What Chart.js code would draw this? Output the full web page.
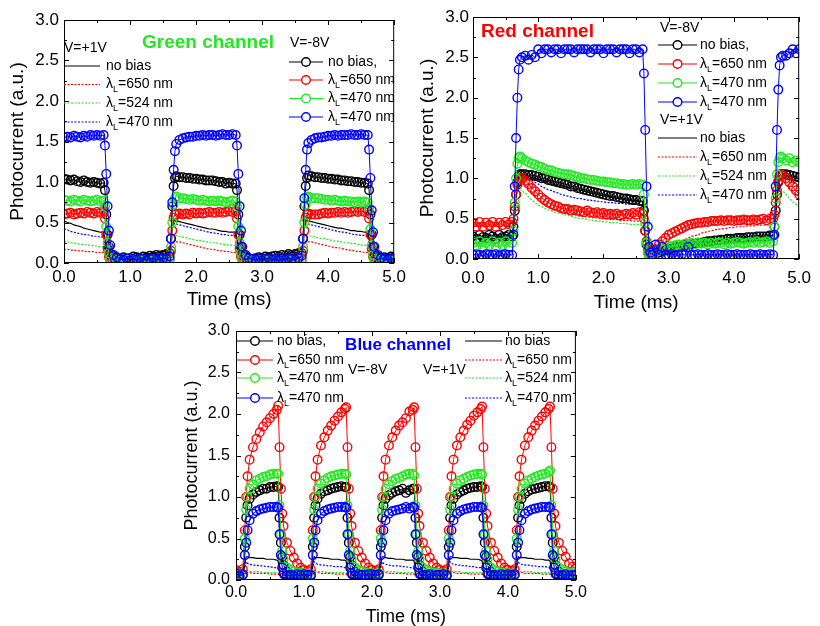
<!DOCTYPE html>
<html>
<head>
<meta charset="utf-8">
<script src="https://cdn.jsdelivr.net/npm/chart.js@4.4.1/dist/chart.umd.min.js"></script>
<style>
  html, body { margin: 0; padding: 0; background: #fff; overflow: hidden; }
  .panel { position: absolute; }
</style>
</head>
<body>
<div class="panel" style="left:0;top:0"><canvas id="cGreen" width="410" height="320"></canvas></div>
<div class="panel" style="left:410px;top:0"><canvas id="cRed" width="410" height="320"></canvas></div>
<div class="panel" style="left:180px;top:315px"><canvas id="cBlue" width="410" height="320"></canvas></div>
<script>
const FONT = '"Liberation Sans", Arial, Helvetica, sans-serif';

// series order everywhere: no bias, 650, 470/524, 470
const seriesColors = ['#000000', '#ff0000', '#22e822', '#0000ff'];
const minusLabels = ['no bias,', 'λL=650 nm', 'λL=470 nm', 'λL=470 nm'];   // V=-8V, circles
const plusLabels = ['no bias', 'λL=650 nm', 'λL=524 nm', 'λL=470 nm'];     // V=+1V, lines
const xTickLabels = ['0.0', '1.0', '2.0', '3.0', '4.0', '5.0'];
const yTickLabels = ['0.0', '0.5', '1.0', '1.5', '2.0', '2.5', '3.0'];

// ---------- Green channel (time in ms) ----------
const greenT = [
  0,0.05,0.1,0.15,0.2,0.25,0.3,0.35,0.4,0.45,0.5,0.55,0.6,
  0.62,0.64,0.66,0.68,0.7,0.75,
  0.8,0.85,0.9,0.95,1,1.05,1.1,1.15,1.2,1.25,1.3,1.35,1.4,1.45,1.5,1.55,1.6,
  1.62,1.64,1.66,1.68,1.7,1.75,
  1.8,1.85,1.9,1.95,2,2.05,2.1,2.15,2.2,2.25,2.3,2.35,2.4,2.45,2.5,2.55,2.6,
  2.62,2.64,2.66,2.68,2.7,2.75,
  2.8,2.85,2.9,2.95,3,3.05,3.1,3.15,3.2,3.25,3.3,3.35,3.4,3.45,3.5,3.55,3.6,
  3.62,3.64,3.66,3.68,3.7,3.75,
  3.8,3.85,3.9,3.95,4,4.05,4.1,4.15,4.2,4.25,4.3,4.35,4.4,4.45,4.5,4.55,4.6,
  4.62,4.64,4.66,4.68,4.7,4.75,
  4.8,4.85,4.9,4.95,5
];
const greenK8 = [
  1.04,1.03,1.02,1.03,1.01,1.0,1.02,1.0,0.99,1.0,0.99,0.98,0.99,
  0.9,0.6,0.35,0.2,0.12,0.08,
  0.06,0.05,0.07,0.05,0.06,0.08,0.07,0.06,0.08,0.07,0.09,0.08,0.1,0.09,0.1,0.11,0.12,
  0.3,0.7,0.95,1.05,1.07,1.06,
  1.06,1.05,1.05,1.04,1.04,1.03,1.03,1.02,1.02,1.02,1.01,1.0,1.0,0.98,0.99,0.98,0.98,
  0.9,0.6,0.35,0.2,0.12,0.08,
  0.06,0.05,0.06,0.07,0.06,0.08,0.07,0.08,0.09,0.08,0.1,0.09,0.11,0.1,0.11,0.12,0.12,
  0.3,0.7,0.95,1.05,1.08,1.07,
  1.06,1.06,1.05,1.05,1.04,1.04,1.03,1.03,1.02,1.02,1.01,1.01,1.0,1.0,0.99,0.99,0.98,
  0.9,0.6,0.35,0.2,0.12,0.08,
  0.06,0.07,0.06,0.08,0.07
];
const greenR8 = [
  0.6,0.61,0.62,0.6,0.61,0.62,0.61,0.63,0.62,0.61,0.63,0.62,0.64,
  0.55,0.35,0.18,0.08,0.04,0.02,
  0.02,0.03,0.02,0.04,0.03,0.02,0.03,0.04,0.03,0.02,0.03,0.04,0.03,0.02,0.03,0.04,0.05,
  0.15,0.4,0.56,0.6,0.6,0.61,
  0.6,0.61,0.6,0.62,0.61,0.62,0.61,0.62,0.63,0.62,0.62,0.63,0.62,0.63,0.64,0.63,0.64,
  0.55,0.35,0.18,0.08,0.04,0.02,
  0.03,0.02,0.04,0.03,0.02,0.03,0.04,0.03,0.02,0.03,0.04,0.03,0.04,0.03,0.04,0.05,0.05,
  0.15,0.4,0.56,0.6,0.61,0.6,
  0.6,0.6,0.61,0.62,0.61,0.62,0.62,0.63,0.62,0.63,0.62,0.63,0.64,0.63,0.64,0.63,0.65,
  0.55,0.35,0.18,0.08,0.04,0.02,
  0.02,0.03,0.02,0.04,0.03
];
const greenG8 = [
  0.78,0.77,0.76,0.78,0.77,0.76,0.78,0.77,0.76,0.77,0.78,0.76,0.77,
  0.7,0.45,0.25,0.12,0.06,0.04,
  0.03,0.02,0.03,0.04,0.02,0.03,0.02,0.03,0.04,0.02,0.03,0.03,0.02,0.04,0.03,0.02,0.03,
  0.2,0.5,0.72,0.8,0.82,0.8,
  0.8,0.79,0.78,0.79,0.78,0.77,0.78,0.77,0.76,0.77,0.76,0.77,0.76,0.75,0.76,0.77,0.76,
  0.7,0.45,0.25,0.12,0.06,0.04,
  0.03,0.04,0.02,0.03,0.04,0.02,0.03,0.04,0.03,0.02,0.03,0.04,0.03,0.02,0.03,0.04,0.03,
  0.2,0.5,0.72,0.81,0.82,0.8,
  0.8,0.8,0.79,0.78,0.78,0.77,0.78,0.77,0.76,0.77,0.76,0.76,0.75,0.76,0.75,0.76,0.75,
  0.68,0.42,0.22,0.1,0.05,0.03,
  0.03,0.02,0.03,0.02,0.03
];
const greenB8 = [
  1.55,1.56,1.55,1.57,1.56,1.55,1.57,1.56,1.58,1.57,1.58,1.57,1.58,
  1.45,1.1,0.7,0.4,0.22,0.1,
  0.07,0.05,0.04,0.06,0.03,0.05,0.04,0.06,0.05,0.03,0.05,0.06,0.04,0.05,0.06,0.05,0.08,
  0.3,0.75,1.15,1.38,1.47,1.52,
  1.54,1.55,1.56,1.56,1.57,1.57,1.58,1.57,1.58,1.58,1.57,1.58,1.59,1.58,1.58,1.59,1.58,
  1.45,1.1,0.7,0.4,0.2,0.1,
  0.06,0.05,0.04,0.05,0.03,0.05,0.06,0.04,0.05,0.03,0.05,0.04,0.06,0.05,0.04,0.06,0.09,
  0.3,0.8,1.15,1.4,1.48,1.52,
  1.54,1.55,1.55,1.56,1.57,1.57,1.58,1.57,1.58,1.58,1.58,1.59,1.58,1.58,1.59,1.58,1.58,
  1.4,1.05,0.65,0.38,0.2,0.1,
  0.06,0.05,0.04,0.06,0.05
];
const greenK1 = [
  0.52,0.5,0.49,0.47,0.46,0.45,0.43,0.42,0.41,0.4,0.39,0.38,0.38,
  0.3,0.15,0.06,0.03,0.02,0.02,
  0.03,0.04,0.05,0.06,0.07,0.08,0.08,0.09,0.1,0.1,0.11,0.12,0.12,0.13,0.14,0.14,0.15,
  0.3,0.45,0.52,0.53,0.52,0.51,
  0.5,0.49,0.48,0.47,0.46,0.45,0.44,0.43,0.42,0.42,0.41,0.4,0.39,0.39,0.38,0.38,0.38,
  0.3,0.15,0.06,0.03,0.02,0.02,
  0.03,0.04,0.05,0.06,0.06,0.07,0.08,0.09,0.09,0.1,0.11,0.11,0.12,0.13,0.13,0.14,0.15,
  0.3,0.45,0.52,0.53,0.52,0.51,
  0.5,0.49,0.48,0.47,0.46,0.45,0.44,0.43,0.43,0.42,0.41,0.4,0.4,0.39,0.39,0.38,0.38,
  0.3,0.15,0.06,0.03,0.02,0.02,
  0.03,0.04,0.05,0.06,0.07
];
const greenR1 = [
  0.17,0.17,0.16,0.16,0.15,0.15,0.15,0.14,0.14,0.14,0.13,0.13,0.13,
  0.08,0.03,0.01,0,0,0.01,
  0.01,0.02,0.03,0.03,0.04,0.05,0.05,0.06,0.07,0.07,0.08,0.09,0.09,0.1,0.1,0.11,0.12,
  0.18,0.25,0.27,0.27,0.26,0.26,
  0.25,0.24,0.23,0.22,0.21,0.2,0.19,0.18,0.17,0.17,0.16,0.15,0.15,0.14,0.14,0.13,0.13,
  0.08,0.03,0.01,0,0,0.01,
  0.01,0.02,0.03,0.03,0.04,0.05,0.05,0.06,0.07,0.07,0.08,0.09,0.09,0.1,0.1,0.11,0.12,
  0.18,0.25,0.27,0.27,0.26,0.26,
  0.25,0.24,0.23,0.22,0.21,0.2,0.19,0.19,0.18,0.17,0.16,0.16,0.15,0.14,0.14,0.13,0.13,
  0.08,0.03,0.01,0,0,0.01,
  0.01,0.02,0.03,0.03,0.04
];
const greenG1 = [
  0.27,0.26,0.25,0.25,0.24,0.23,0.23,0.22,0.22,0.21,0.21,0.2,0.2,
  0.15,0.08,0.05,0.04,0.05,0.06,
  0.06,0.05,0.06,0.07,0.06,0.07,0.08,0.07,0.08,0.07,0.08,0.09,0.08,0.09,0.1,0.09,0.1,
  0.2,0.32,0.35,0.35,0.34,0.33,
  0.32,0.31,0.3,0.29,0.28,0.28,0.27,0.26,0.26,0.25,0.25,0.24,0.23,0.23,0.22,0.22,0.21,
  0.15,0.08,0.05,0.04,0.05,0.06,
  0.06,0.05,0.06,0.07,0.07,0.06,0.08,0.07,0.08,0.08,0.07,0.09,0.08,0.09,0.09,0.1,0.1,
  0.2,0.32,0.35,0.35,0.34,0.33,
  0.32,0.31,0.3,0.3,0.29,0.28,0.27,0.27,0.26,0.25,0.25,0.24,0.24,0.23,0.22,0.22,0.21,
  0.15,0.08,0.05,0.04,0.05,0.06,
  0.06,0.05,0.07,0.06,0.07
];
const greenB1 = [
  0.42,0.41,0.39,0.38,0.37,0.36,0.35,0.35,0.34,0.33,0.33,0.32,0.32,
  0.25,0.12,0.06,0.04,0.05,0.06,
  0.06,0.07,0.06,0.07,0.08,0.07,0.08,0.07,0.08,0.09,0.08,0.09,0.08,0.09,0.1,0.09,0.1,
  0.25,0.42,0.48,0.49,0.48,0.47,
  0.46,0.45,0.44,0.43,0.42,0.41,0.4,0.39,0.38,0.37,0.37,0.36,0.35,0.35,0.34,0.34,0.33,
  0.25,0.12,0.06,0.04,0.05,0.06,
  0.06,0.07,0.06,0.07,0.08,0.07,0.08,0.08,0.07,0.09,0.08,0.09,0.09,0.08,0.1,0.09,0.1,
  0.25,0.42,0.48,0.49,0.48,0.47,
  0.46,0.45,0.44,0.43,0.42,0.41,0.4,0.39,0.38,0.38,0.37,0.36,0.35,0.35,0.34,0.34,0.33,
  0.25,0.12,0.06,0.04,0.05,0.06,
  0.06,0.07,0.06,0.08,0.07
];

// ---------- Red channel ----------
const redT = [
  0,0.05,0.1,0.15,0.2,0.25,0.3,0.35,0.4,0.45,0.5,0.55,0.6,
  0.62,0.64,0.66,0.68,0.7,0.72,0.75,
  0.8,0.85,0.9,0.95,1,1.05,1.1,1.15,1.2,1.25,1.3,1.35,1.4,1.45,1.5,1.55,1.6,1.65,1.7,
  1.75,1.8,1.85,1.9,1.95,2,2.05,2.1,2.15,2.2,2.25,2.3,2.35,2.4,2.45,2.5,2.55,2.6,
  2.62,2.64,2.66,2.68,2.7,2.72,2.75,
  2.8,2.85,2.9,2.95,3,3.05,3.1,3.15,3.2,3.25,3.3,3.35,3.4,3.45,3.5,3.55,3.6,3.65,3.7,
  3.75,3.8,3.85,3.9,3.95,4,4.05,4.1,4.15,4.2,4.25,4.3,4.35,4.4,4.45,4.5,4.55,4.6,
  4.62,4.64,4.66,4.68,4.7,4.72,4.75,
  4.8,4.85,4.9,4.95,5
];
const redK8 = [
  0.28,0.25,0.3,0.27,0.26,0.3,0.28,0.25,0.3,0.27,0.28,0.3,0.28,
  0.4,0.6,0.8,0.95,1.03,1.05,1.05,
  1.05,1.04,1.04,1.03,1.02,1.0,1.0,0.98,0.97,0.96,0.95,0.94,0.93,0.92,0.9,0.9,0.88,0.87,0.86,
  0.85,0.84,0.83,0.82,0.81,0.8,0.79,0.78,0.78,0.77,0.76,0.75,0.75,0.74,0.73,0.73,0.72,0.72,
  0.6,0.35,0.18,0.08,0.05,0.04,0.05,
  0.06,0.08,0.1,0.11,0.12,0.13,0.14,0.15,0.16,0.17,0.18,0.18,0.19,0.2,0.2,0.21,0.22,0.22,0.23,
  0.23,0.24,0.24,0.25,0.25,0.25,0.26,0.26,0.26,0.27,0.27,0.27,0.28,0.28,0.28,0.28,0.29,0.29,
  0.4,0.6,0.8,0.95,1.03,1.05,1.05,
  1.05,1.04,1.03,1.02,1.01
];
const redR8 = [
  0.45,0.4,0.46,0.4,0.45,0.42,0.46,0.4,0.45,0.42,0.46,0.43,0.46,
  0.5,0.65,0.8,0.92,0.98,1.0,1.0,
  0.97,0.93,0.88,0.84,0.8,0.76,0.73,0.7,0.68,0.66,0.65,0.63,0.62,0.62,0.6,0.61,0.6,0.59,0.58,
  0.6,0.58,0.57,0.58,0.56,0.57,0.55,0.56,0.55,0.56,0.54,0.55,0.56,0.55,0.57,0.55,0.58,0.56,
  0.5,0.35,0.22,0.14,0.1,0.08,0.1,
  0.12,0.18,0.22,0.26,0.3,0.32,0.34,0.36,0.38,0.4,0.42,0.43,0.44,0.45,0.45,0.46,0.46,0.47,0.47,
  0.47,0.48,0.47,0.48,0.48,0.47,0.48,0.48,0.49,0.48,0.48,0.49,0.48,0.49,0.5,0.48,0.5,0.5,
  0.55,0.7,0.85,0.97,1.03,1.05,1.03,
  1.0,0.95,0.9,0.85,0.8
];
const redG8 = [
  0.2,0.15,0.22,0.15,0.2,0.17,0.22,0.15,0.2,0.17,0.22,0.15,0.2,
  0.35,0.7,1.0,1.18,1.25,1.27,1.25,
  1.22,1.2,1.18,1.17,1.15,1.14,1.12,1.1,1.1,1.08,1.07,1.06,1.05,1.05,1.04,1.03,1.02,1.0,1.0,
  0.99,0.98,0.98,0.97,0.96,0.96,0.95,0.95,0.94,0.94,0.93,0.93,0.92,0.92,0.93,0.92,0.93,0.92,
  0.8,0.45,0.2,0.08,0.04,0.03,0.05,
  0.08,0.1,0.12,0.14,0.15,0.16,0.17,0.18,0.17,0.19,0.18,0.2,0.18,0.2,0.19,0.2,0.18,0.2,0.19,
  0.2,0.2,0.18,0.2,0.19,0.2,0.21,0.2,0.19,0.2,0.21,0.2,0.22,0.2,0.21,0.22,0.2,0.22,
  0.4,0.75,1.05,1.2,1.25,1.27,1.25,
  1.22,1.25,1.2,1.22,1.2
];
const redB8 = [
  0.05,0.06,0.05,0.04,0.06,0.05,0.05,0.06,0.04,0.05,0.06,0.05,0.05,
  0.3,0.9,1.5,2.0,2.35,2.47,2.5,
  2.52,2.47,2.53,2.5,2.6,2.55,2.6,2.6,2.56,2.6,2.6,2.55,2.6,2.6,2.6,2.56,2.6,2.6,2.6,
  2.6,2.56,2.6,2.6,2.6,2.55,2.6,2.6,2.6,2.56,2.6,2.6,2.6,2.55,2.6,2.6,2.56,2.6,
  2.3,1.6,0.9,0.4,0.15,0.08,0.05,
  0.18,0.05,0.15,0.05,0.05,0.06,0.05,0.05,0.06,0.05,0.15,0.05,0.05,0.06,0.05,0.05,0.06,0.05,0.05,
  0.06,0.05,0.05,0.06,0.05,0.05,0.06,0.05,0.05,0.05,0.06,0.05,0.05,0.06,0.05,0.05,0.06,0.05,
  0.3,0.9,1.6,2.1,2.4,2.5,2.52,
  2.52,2.55,2.6,2.55,2.6
];
const redK1 = [
  0.25,0.25,0.26,0.25,0.25,0.26,0.25,0.25,0.26,0.25,0.25,0.26,0.25,
  0.35,0.55,0.75,0.9,1.0,1.03,1.04,
  1.03,1.02,1.01,1.0,0.99,0.98,0.97,0.96,0.95,0.93,0.92,0.91,0.9,0.89,0.88,0.87,0.86,0.85,0.84,
  0.83,0.82,0.81,0.8,0.79,0.78,0.78,0.77,0.76,0.75,0.75,0.74,0.73,0.73,0.72,0.72,0.71,0.71,
  0.55,0.3,0.15,0.07,0.04,0.03,0.04,
  0.05,0.07,0.09,0.1,0.11,0.12,0.13,0.14,0.15,0.16,0.17,0.17,0.18,0.19,0.19,0.2,0.21,0.21,0.22,
  0.22,0.23,0.23,0.24,0.24,0.24,0.25,0.25,0.25,0.26,0.26,0.26,0.27,0.27,0.27,0.27,0.28,0.28,
  0.35,0.55,0.75,0.9,1.0,1.03,1.04,
  1.03,1.02,1.01,1.0,0.99
];
const redR1 = [
  0.4,0.41,0.4,0.41,0.4,0.41,0.4,0.41,0.4,0.41,0.4,0.41,0.4,
  0.45,0.6,0.75,0.88,0.95,0.97,0.96,
  0.92,0.87,0.82,0.78,0.74,0.7,0.67,0.65,0.63,0.61,0.6,0.58,0.57,0.56,0.55,0.55,0.54,0.53,0.53,
  0.52,0.52,0.51,0.51,0.5,0.5,0.5,0.49,0.49,0.49,0.48,0.48,0.48,0.48,0.47,0.47,0.47,0.47,
  0.4,0.25,0.14,0.08,0.05,0.04,0.05,
  0.06,0.08,0.1,0.12,0.14,0.16,0.18,0.2,0.22,0.24,0.26,0.28,0.29,0.3,0.32,0.33,0.34,0.35,0.36,
  0.37,0.37,0.38,0.38,0.39,0.39,0.4,0.4,0.4,0.41,0.41,0.41,0.42,0.42,0.42,0.42,0.43,0.43,
  0.5,0.65,0.8,0.92,0.97,0.98,0.96,
  0.93,0.88,0.84,0.8,0.77
];
const redG1 = [
  0.28,0.27,0.28,0.27,0.28,0.27,0.28,0.27,0.28,0.27,0.28,0.27,0.28,
  0.35,0.55,0.72,0.84,0.88,0.86,0.84,
  0.82,0.77,0.73,0.7,0.67,0.65,0.63,0.61,0.6,0.58,0.57,0.56,0.55,0.54,0.53,0.52,0.51,0.5,0.5,
  0.49,0.48,0.48,0.47,0.47,0.46,0.46,0.45,0.45,0.45,0.44,0.44,0.44,0.43,0.43,0.43,0.42,0.42,
  0.35,0.2,0.1,0.05,0.03,0.03,0.04,
  0.05,0.06,0.07,0.08,0.1,0.11,0.12,0.13,0.14,0.15,0.16,0.17,0.17,0.18,0.19,0.19,0.2,0.2,0.21,
  0.21,0.22,0.22,0.22,0.23,0.23,0.23,0.24,0.24,0.24,0.24,0.25,0.25,0.25,0.25,0.26,0.26,0.26,
  0.35,0.55,0.72,0.84,0.88,0.86,0.84,
  0.8,0.75,0.71,0.68,0.65
];
const redB1 = [
  0.3,0.28,0.3,0.29,0.3,0.31,0.3,0.29,0.31,0.3,0.3,0.31,0.3,
  0.4,0.6,0.8,0.95,1.02,1.05,1.04,
  1.03,1.0,0.98,0.95,0.93,0.9,0.88,0.86,0.85,0.83,0.82,0.8,0.79,0.78,0.77,0.76,0.75,0.75,0.74,
  0.73,0.73,0.72,0.72,0.71,0.71,0.7,0.7,0.7,0.69,0.69,0.69,0.68,0.68,0.68,0.68,0.67,0.67,
  0.55,0.35,0.2,0.12,0.08,0.06,0.05,
  0.06,0.07,0.08,0.1,0.11,0.12,0.13,0.14,0.15,0.16,0.17,0.18,0.19,0.2,0.2,0.21,0.22,0.22,0.23,
  0.24,0.24,0.25,0.25,0.26,0.26,0.27,0.27,0.28,0.28,0.28,0.29,0.29,0.29,0.3,0.3,0.3,0.3,
  0.4,0.6,0.85,0.98,1.03,1.04,1.03,
  1.01,0.98,0.95,0.93,0.9
];

// ---------- Blue channel ----------
const blueT = [
  0,0.05,0.1,0.13,0.15,0.17,0.2,0.25,0.3,0.35,0.4,0.45,0.5,0.55,0.6,0.62,0.64,0.66,0.68,0.7,0.75,0.8,0.85,0.9,0.95,
  1,1.05,1.1,1.13,1.15,1.17,1.2,1.25,1.3,1.35,1.4,1.45,1.5,1.55,1.6,1.62,1.64,1.66,1.68,1.7,1.75,1.8,1.85,1.9,1.95,
  2,2.05,2.1,2.13,2.15,2.17,2.2,2.25,2.3,2.35,2.4,2.45,2.5,2.55,2.6,2.62,2.64,2.66,2.68,2.7,2.75,2.8,2.85,2.9,2.95,
  3,3.05,3.1,3.13,3.15,3.17,3.2,3.25,3.3,3.35,3.4,3.45,3.5,3.55,3.6,3.62,3.64,3.66,3.68,3.7,3.75,3.8,3.85,3.9,3.95,
  4,4.05,4.1,4.13,4.15,4.17,4.2,4.25,4.3,4.35,4.4,4.45,4.5,4.55,4.6,4.62,4.64,4.66,4.68,4.7,4.75,4.8,4.85,4.9,4.95,
  5
];
const blueK8 = [
  0.05,0.05,0.06,0.4,0.75,0.9,0.98,1.03,1.06,1.08,1.1,1.1,1.12,1.12,1.13,1.12,0.75,0.45,0.28,0.18,0.1,0.07,0.06,0.05,0.05,
  0.05,0.06,0.05,0.4,0.75,0.9,0.98,1.04,1.07,1.08,1.1,1.11,1.12,1.13,1.12,1.12,0.75,0.45,0.28,0.18,0.1,0.07,0.06,0.05,0.05,
  0.05,0.05,0.06,0.4,0.75,0.9,0.98,1.02,1.05,1.07,1.08,1.1,1.05,1.08,1.1,1.1,0.75,0.45,0.28,0.18,0.1,0.07,0.06,0.05,0.05,
  0.05,0.06,0.05,0.4,0.75,0.9,0.98,1.03,1.06,1.08,1.1,1.11,1.12,1.12,1.13,1.12,0.75,0.45,0.28,0.18,0.1,0.07,0.06,0.05,0.05,
  0.05,0.05,0.06,0.4,0.75,0.9,0.98,1.04,1.07,1.09,1.1,1.11,1.12,1.13,1.13,1.12,0.75,0.45,0.28,0.18,0.1,0.07,0.06,0.05,0.05,
  0.05
];
const blueR8 = [
  0.12,0.1,0.13,0.6,1.0,1.25,1.45,1.6,1.7,1.78,1.85,1.9,1.95,2.0,2.05,2.1,1.6,1.1,0.8,0.65,0.45,0.35,0.27,0.2,0.15,
  0.12,0.11,0.13,0.6,1.0,1.25,1.45,1.62,1.72,1.8,1.86,1.92,1.97,2.02,2.06,2.08,1.6,1.1,0.8,0.65,0.45,0.35,0.27,0.2,0.15,
  0.12,0.11,0.13,0.6,1.0,1.25,1.45,1.62,1.72,1.8,1.86,1.9,1.95,2.03,2.05,2.08,1.6,1.1,0.8,0.65,0.45,0.35,0.27,0.2,0.15,
  0.12,0.11,0.13,0.6,1.0,1.25,1.45,1.62,1.72,1.8,1.87,1.92,1.98,2.02,2.06,2.09,1.6,1.1,0.8,0.65,0.45,0.35,0.27,0.2,0.15,
  0.12,0.11,0.13,0.6,1.0,1.25,1.45,1.62,1.72,1.8,1.86,1.92,1.97,2.02,2.06,2.09,1.6,1.1,0.8,0.65,0.45,0.35,0.28,0.2,0.16,
  0.14
];
const blueG8 = [
  0.07,0.06,0.07,0.5,0.85,1.0,1.1,1.15,1.2,1.22,1.24,1.25,1.27,1.28,1.28,1.28,0.9,0.55,0.35,0.25,0.15,0.12,0.1,0.09,0.08,
  0.08,0.07,0.07,0.5,0.85,1.0,1.1,1.16,1.2,1.23,1.25,1.26,1.27,1.28,1.28,1.27,0.9,0.55,0.35,0.25,0.15,0.12,0.1,0.09,0.08,
  0.08,0.07,0.08,0.5,0.85,1.0,1.1,1.15,1.19,1.22,1.23,1.25,1.27,1.28,1.28,1.26,0.9,0.55,0.35,0.25,0.15,0.12,0.1,0.09,0.08,
  0.08,0.07,0.07,0.5,0.85,1.0,1.1,1.16,1.2,1.22,1.24,1.26,1.27,1.28,1.28,1.27,0.9,0.55,0.35,0.25,0.15,0.12,0.1,0.09,0.08,
  0.08,0.07,0.07,0.5,0.85,1.0,1.1,1.16,1.2,1.22,1.24,1.26,1.27,1.28,1.3,1.32,0.9,0.55,0.35,0.25,0.15,0.12,0.1,0.09,0.08,
  0.08
];
const blueB8 = [
  0.08,0.05,0.07,0.3,0.45,0.6,0.72,0.8,0.83,0.85,0.86,0.87,0.88,0.88,0.88,0.87,0.55,0.3,0.15,0.08,0.05,0.06,0.05,0.07,0.06,
  0.07,0.06,0.06,0.3,0.45,0.6,0.72,0.8,0.83,0.85,0.86,0.87,0.88,0.88,0.88,0.87,0.55,0.3,0.15,0.08,0.05,0.07,0.06,0.06,0.07,
  0.07,0.06,0.07,0.3,0.45,0.6,0.72,0.8,0.83,0.84,0.85,0.86,0.88,0.86,0.88,0.87,0.55,0.3,0.15,0.08,0.05,0.06,0.07,0.05,0.06,
  0.06,0.07,0.06,0.3,0.45,0.6,0.72,0.8,0.83,0.85,0.86,0.87,0.88,0.88,0.88,0.87,0.55,0.3,0.15,0.08,0.05,0.06,0.05,0.07,0.06,
  0.07,0.06,0.07,0.3,0.45,0.6,0.72,0.8,0.83,0.85,0.86,0.87,0.88,0.88,0.88,0.87,0.55,0.3,0.15,0.08,0.05,0.06,0.07,0.05,0.06,
  0.06
];
const blueK1 = [
  0.02,0.02,0.03,0.2,0.28,0.28,0.27,0.27,0.26,0.26,0.26,0.25,0.25,0.25,0.24,0.23,0.1,0.04,0.02,0.02,0.02,0.02,0.02,0.02,0.02,
  0.02,0.02,0.03,0.2,0.28,0.27,0.27,0.27,0.26,0.26,0.25,0.25,0.25,0.24,0.24,0.23,0.1,0.04,0.02,0.02,0.02,0.02,0.02,0.02,0.02,
  0.02,0.02,0.03,0.2,0.28,0.28,0.27,0.26,0.26,0.25,0.25,0.25,0.24,0.24,0.24,0.23,0.1,0.04,0.02,0.02,0.02,0.02,0.02,0.02,0.02,
  0.02,0.02,0.03,0.2,0.28,0.28,0.27,0.27,0.26,0.26,0.26,0.25,0.25,0.25,0.24,0.23,0.1,0.04,0.02,0.02,0.02,0.02,0.02,0.02,0.02,
  0.02,0.02,0.03,0.2,0.28,0.27,0.27,0.27,0.26,0.26,0.25,0.25,0.25,0.24,0.24,0.23,0.1,0.04,0.02,0.02,0.02,0.02,0.02,0.02,0.02,
  0.02
];
const blueR1 = [
  0.03,0.03,0.03,0.06,0.1,0.09,0.09,0.08,0.08,0.08,0.08,0.08,0.07,0.07,0.07,0.07,0.05,0.03,0.02,0.02,0.02,0.03,0.03,0.03,0.03,
  0.03,0.03,0.03,0.06,0.1,0.09,0.09,0.08,0.08,0.08,0.08,0.07,0.07,0.07,0.07,0.07,0.05,0.03,0.02,0.02,0.02,0.03,0.03,0.03,0.03,
  0.03,0.03,0.03,0.06,0.1,0.09,0.09,0.08,0.08,0.08,0.08,0.08,0.07,0.07,0.07,0.07,0.05,0.03,0.02,0.02,0.02,0.03,0.03,0.03,0.03,
  0.03,0.03,0.03,0.06,0.1,0.09,0.09,0.08,0.08,0.08,0.08,0.07,0.07,0.07,0.07,0.07,0.05,0.03,0.02,0.02,0.02,0.03,0.03,0.03,0.03,
  0.03,0.03,0.03,0.06,0.1,0.09,0.09,0.08,0.08,0.08,0.08,0.08,0.07,0.07,0.07,0.07,0.05,0.03,0.02,0.02,0.02,0.03,0.03,0.03,0.03,
  0.03
];
const blueG1 = [
  0.05,0.05,0.05,0.08,0.12,0.11,0.1,0.1,0.1,0.1,0.09,0.09,0.09,0.09,0.09,0.08,0.06,0.05,0.05,0.05,0.05,0.05,0.05,0.05,0.05,
  0.05,0.05,0.05,0.08,0.12,0.11,0.1,0.1,0.1,0.09,0.09,0.09,0.09,0.09,0.09,0.08,0.06,0.05,0.05,0.05,0.05,0.05,0.05,0.05,0.05,
  0.05,0.05,0.05,0.08,0.12,0.11,0.1,0.1,0.1,0.1,0.09,0.09,0.09,0.09,0.09,0.08,0.06,0.05,0.05,0.05,0.05,0.05,0.05,0.05,0.05,
  0.05,0.05,0.05,0.08,0.12,0.11,0.1,0.1,0.1,0.09,0.09,0.09,0.09,0.09,0.09,0.08,0.06,0.05,0.05,0.05,0.05,0.05,0.05,0.05,0.05,
  0.05,0.05,0.05,0.08,0.12,0.11,0.1,0.1,0.1,0.1,0.09,0.09,0.09,0.09,0.09,0.08,0.06,0.05,0.05,0.05,0.05,0.05,0.05,0.05,0.05,
  0.05
];
const blueB1 = [
  0.07,0.07,0.07,0.15,0.22,0.2,0.19,0.18,0.18,0.17,0.17,0.16,0.16,0.15,0.15,0.14,0.1,0.08,0.07,0.07,0.07,0.07,0.08,0.07,0.07,
  0.07,0.07,0.07,0.15,0.22,0.2,0.19,0.18,0.18,0.17,0.17,0.16,0.16,0.16,0.15,0.14,0.1,0.08,0.07,0.07,0.07,0.07,0.08,0.07,0.07,
  0.07,0.07,0.07,0.15,0.22,0.2,0.19,0.18,0.17,0.17,0.17,0.16,0.16,0.15,0.15,0.14,0.1,0.08,0.07,0.07,0.07,0.07,0.08,0.07,0.07,
  0.07,0.07,0.07,0.15,0.22,0.2,0.19,0.18,0.18,0.17,0.17,0.16,0.16,0.15,0.15,0.14,0.1,0.08,0.07,0.07,0.07,0.08,0.07,0.07,0.07,
  0.07,0.07,0.07,0.15,0.22,0.2,0.19,0.18,0.18,0.17,0.17,0.16,0.16,0.16,0.15,0.14,0.1,0.08,0.07,0.07,0.07,0.07,0.08,0.07,0.07,
  0.07
];

function pairs(t, ys) {
  return ys.map((y, i) => ({ x: t[i], y: y }));
}

function makeDatasets(t, circles, lines) {
  const sets = [];
  lines.forEach((ys, i) => sets.push({
    label: plusLabels[i],
    data: pairs(t, ys),
    borderColor: seriesColors[i],
    borderWidth: 1.2,
    borderDash: i === 0 ? [] : [2, 1.5],
    pointRadius: 0,
    tension: 0,
    clip: 0,
    order: 10 + i
  }));
  circles.forEach((ys, i) => sets.push({
    label: minusLabels[i],
    data: pairs(t, ys),
    borderColor: seriesColors[i],
    borderWidth: 1,
    pointRadius: 4.3,
    pointBorderWidth: 1.4,
    pointBorderColor: seriesColors[i],
    pointBackgroundColor: 'rgba(255,255,255,0)',
    tension: 0,
    clip: 0,
    order: 4 - i
  }));
  return sets;
}

// λ with subscript L
function drawLabel(ctx, text, x, y, size) {
  ctx.fillStyle = '#000';
  ctx.textAlign = 'left';
  ctx.textBaseline = 'middle';
  ctx.font = size + 'px ' + FONT;
  if (text.startsWith('λL')) {
    ctx.fillText('λ', x, y);
    let w = ctx.measureText('λ').width;
    ctx.font = Math.round(size * 0.65) + 'px ' + FONT;
    ctx.fillText('L', x + w, y + size * 0.38);
    w += ctx.measureText('L').width;
    ctx.font = size + 'px ' + FONT;
    ctx.fillText(text.slice(2), x + w, y);
  } else {
    ctx.fillText(text, x, y);
  }
}

const framePlugin = {
  id: 'frame',
  afterDatasetsDraw(chart) {
    const { ctx, chartArea: a, scales: { x, y } } = chart;
    ctx.save();
    ctx.strokeStyle = '#000';
    ctx.lineWidth = 1;
    ctx.strokeRect(a.left + 0.5, a.top + 0.5, a.right - a.left - 1, a.bottom - a.top - 1);
    ctx.beginPath();
    for (let v = 0; v <= 3.001; v += 0.25) {
      const py = Math.round(y.getPixelForValue(v)) + 0.5;
      const len = Math.abs(v * 2 - Math.round(v * 2)) < 0.01 ? 5 : 3;
      ctx.moveTo(a.left, py); ctx.lineTo(a.left + len, py);
      ctx.moveTo(a.right, py); ctx.lineTo(a.right - len, py);
    }
    for (let v = 0; v <= 5.001; v += 0.5) {
      const px = Math.round(x.getPixelForValue(v)) + 0.5;
      const len = Math.abs(v - Math.round(v)) < 0.01 ? 5 : 3;
      ctx.moveTo(px, a.bottom); ctx.lineTo(px, a.bottom - len);
      ctx.moveTo(px, a.top); ctx.lineTo(px, a.top + len);
    }
    ctx.stroke();
    ctx.restore();
  },
  afterDraw(chart) {
    const spec = chart.options.plugins.frame;
    if (!spec) return;
    const { ctx, chartArea: a } = chart;
    ctx.save();
    ctx.beginPath();
    ctx.rect(a.left, a.top, a.right - a.left, a.bottom - a.top);
    ctx.clip();
    const fs = spec.legendSize;
    spec.groups.forEach(g => {
      const labels = g.circles ? minusLabels : plusLabels;
      g.rows.forEach((ry, i) => {
        ctx.strokeStyle = seriesColors[i];
        ctx.lineWidth = 1.2;
        ctx.setLineDash(g.circles || i === 0 ? [] : [2, 1.5]);
        ctx.beginPath();
        ctx.moveTo(g.x1, ry); ctx.lineTo(g.x2, ry);
        ctx.stroke();
        ctx.setLineDash([]);
        if (g.circles) {
          ctx.beginPath();
          ctx.fillStyle = '#fff';
          ctx.arc((g.x1 + g.x2) / 2, ry, 4.3, 0, Math.PI * 2);
          ctx.fill();
          ctx.lineWidth = 1.4;
          ctx.stroke();
        }
        drawLabel(ctx, labels[i], g.tx, ry, fs);
      });
    });
    spec.texts.forEach(tx => {
      ctx.fillStyle = tx.color || '#000';
      ctx.font = (tx.bold ? 'bold ' : '') + tx.size + 'px ' + FONT;
      ctx.textAlign = tx.align || 'left';
      ctx.textBaseline = 'middle';
      ctx.fillText(tx.text, tx.x, tx.y);
    });
    ctx.restore();
  }
};

function buildChart(id, t, circles, lines, lay) {
  return new Chart(document.getElementById(id).getContext('2d'), {
    type: 'line',
    data: { datasets: makeDatasets(t, circles, lines) },
    options: {
      responsive: false,
      animation: false,
      devicePixelRatio: 1,
      layout: { padding: lay.padding },
      scales: {
        x: {
          type: 'linear', min: 0, max: 5,
          grid: { display: false, drawTicks: false },
          border: { display: false },
          afterFit(s) { s.height = lay.xHeight; },
          ticks: {
            stepSize: 1, autoSkip: false, maxRotation: 0, padding: lay.xPad, color: '#000',
            font: { family: FONT, size: lay.tickSize },
            callback: v => xTickLabels[Math.round(v)]
          },
          title: {
            display: true, text: 'Time (ms)', color: '#000',
            font: { family: FONT, size: lay.titleSize }, padding: { top: 0, bottom: 4 }
          }
        },
        y: {
          min: 0, max: 3,
          grid: { display: false, drawTicks: false },
          border: { display: false },
          afterFit(s) { s.width = lay.yWidth; },
          ticks: {
            stepSize: 0.5, autoSkip: false, padding: lay.yPad, color: '#000',
            font: { family: FONT, size: lay.tickSize },
            callback: v => yTickLabels[Math.round(v * 2)]
          },
          title: {
            display: true, text: 'Photocurrent (a.u.)', color: '#000',
            font: { family: FONT, size: lay.titleSize }, padding: { top: lay.yTitleTop, bottom: 2 }
          }
        }
      },
      plugins: {
        legend: { display: false },
        tooltip: { enabled: false },
        frame: lay.legend
      }
    },
    plugins: [framePlugin]
  });
}

buildChart('cGreen', greenT,
  [greenK8, greenR8, greenG8, greenB8],
  [greenK1, greenR1, greenG1, greenB1],
  {
    padding: { left: 2, top: 20, right: 14, bottom: 4.6 },
    xHeight: 52.4, yWidth: 62, xPad: 4, yPad: 5, tickSize: 17, titleSize: 19, yTitleTop: 4,
    legend: {
      legendSize: 14,
      groups: [
        { circles: false, x1: 64, x2: 100, tx: 106, rows: [66, 84.5, 103, 122] },
        { circles: true, x1: 289, x2: 323, tx: 328, rows: [62, 80, 98.5, 117] }
      ],
      texts: [
        { text: 'Green channel', x: 208, y: 43, size: 19, bold: true, color: '#22e822', align: 'center' },
        { text: 'V=+1V', x: 64, y: 48, size: 14 },
        { text: 'V=-8V', x: 290, y: 43, size: 14 }
      ]
    }
  });

buildChart('cRed', redT,
  [redK8, redR8, redG8, redB8],
  [redK1, redR1, redG1, redB1],
  {
    padding: { left: 2, top: 17, right: 14, bottom: 1.6 },
    xHeight: 59.4, yWidth: 61, xPad: 9, yPad: 4, tickSize: 17, titleSize: 19, yTitleTop: 4,
    legend: {
      legendSize: 14,
      groups: [
        { circles: true, x1: 248, x2: 287, tx: 290, rows: [45, 64, 83, 102] },
        { circles: false, x1: 248, x2: 287, tx: 290, rows: [138, 157, 176, 195] }
      ],
      texts: [
        { text: 'Red channel', x: 71, y: 32, size: 19, bold: true, color: '#ff0000' },
        { text: 'V=-8V', x: 250, y: 28, size: 14 },
        { text: 'V=+1V', x: 250, y: 120, size: 14 }
      ]
    }
  });

buildChart('cBlue', blueT,
  [blueK8, blueR8, blueG8, blueB8],
  [blueK1, blueR1, blueG1, blueB1],
  {
    padding: { left: 0, top: 16, right: 14, bottom: 3.2 },
    xHeight: 51.8, yWidth: 56, xPad: 3, yPad: 6, tickSize: 16, titleSize: 18, yTitleTop: 1,
    legend: {
      legendSize: 14,
      groups: [
        { circles: true, x1: 57, x2: 93, tx: 97, rows: [26, 45, 63, 83] },
        { circles: false, x1: 285, x2: 322, tx: 325, rows: [26, 45, 63, 83] }
      ],
      texts: [
        { text: 'Blue channel', x: 218, y: 30, size: 17, bold: true, color: '#0000ff', align: 'center' },
        { text: 'V=-8V', x: 168, y: 55, size: 14 },
        { text: 'V=+1V', x: 243, y: 55, size: 14 }
      ]
    }
  });
</script>
</body>
</html>
